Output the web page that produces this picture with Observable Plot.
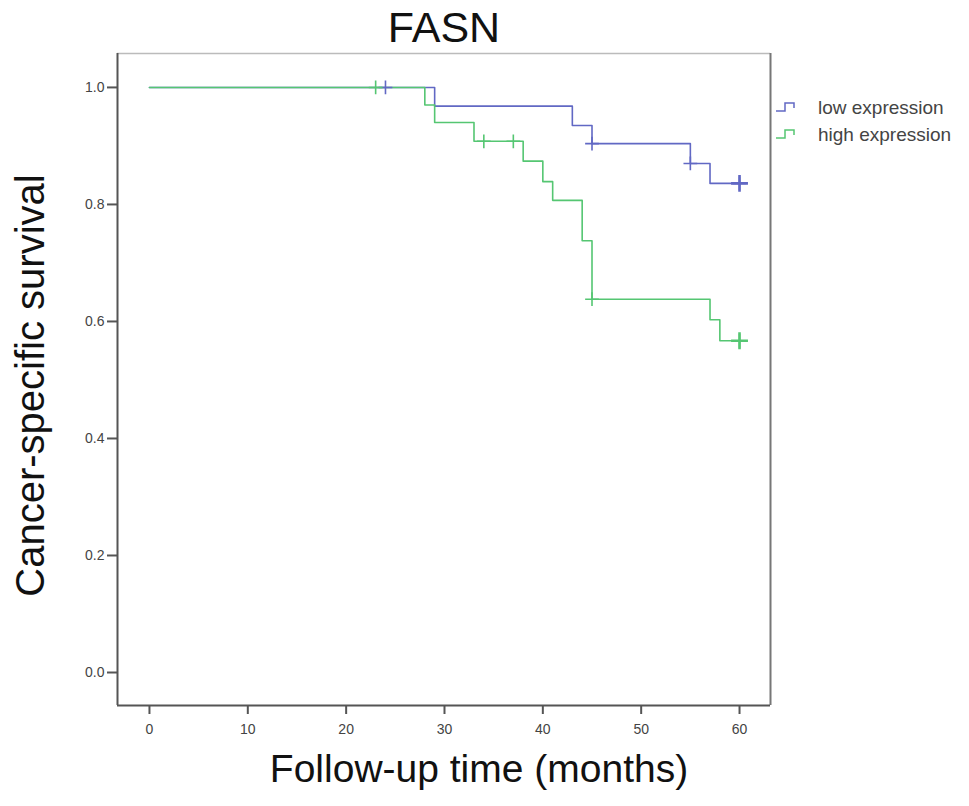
<!DOCTYPE html>
<html>
<head>
<meta charset="utf-8">
<script src="https://cdn.jsdelivr.net/npm/d3@7"></script>
<script src="https://cdn.jsdelivr.net/npm/@observablehq/plot@0.6"></script>
<style>
  html, body { margin: 0; padding: 0; background: #fff; }
  #chart { width: 969px; height: 806px; }
</style>
</head>
<body>
<div id="chart"></div>
<script>
// ---- data ----
const title = "FASN";
const xLabel = "Follow-up time (months)";
const yLabel = "Cancer-specific survival";
const seriesNames = ["low expression", "high expression"];
const seriesColors = ["#6168c4", "#55c672"];

// Kaplan-Meier step points (time in months, survival)
const lowTimes     = [0, 29, 43, 45, 55, 57, 60];
const lowSurvival  = [1.0, 0.968, 0.935, 0.904, 0.870, 0.836, 0.836];
const highTimes    = [0, 28, 29, 33, 38, 40, 41, 44, 45, 57, 58, 60];
const highSurvival = [1.0, 0.970, 0.940, 0.908, 0.874, 0.839, 0.807, 0.738, 0.638, 0.603, 0.567, 0.567];

// censored observations
const lowCensorTimes  = [24, 45, 55, 60];
const lowCensorSurv   = [1.0, 0.904, 0.870, 0.836];
const highCensorTimes = [23, 34, 37, 45, 60];
const highCensorSurv  = [1.0, 0.908, 0.908, 0.638, 0.567];

const xTicks = [0, 10, 20, 30, 40, 50, 60];
const yTicks = [0.0, 0.2, 0.4, 0.6, 0.8, 1.0];

// ---- build tables ----
const steps = [
  ...lowTimes.map((t, i) => ({time: t, surv: lowSurvival[i], group: seriesNames[0]})),
  ...highTimes.map((t, i) => ({time: t, surv: highSurvival[i], group: seriesNames[1]}))
];
const censors = [
  ...lowCensorTimes.map((t, i) => ({time: t, surv: lowCensorSurv[i], group: seriesNames[0]})),
  ...highCensorTimes.map((t, i) => ({time: t, surv: highCensorSurv[i], group: seriesNames[1]}))
];

const xDomain = [-3.25, 63.15];
const yDomain = [-0.0564, 1.058];
const axisColor = "#555";
const font = "Liberation Sans, Arial, sans-serif";

const plot = Plot.plot({
  width: 969,
  height: 806,
  marginLeft: 117,
  marginRight: 199,
  marginTop: 53,
  marginBottom: 101,
  style: {fontFamily: font, background: "#fff", overflow: "visible"},
  x: {domain: xDomain, ticks: xTicks, tickFormat: d3.format("d"), label: null},
  y: {domain: yDomain, ticks: yTicks, tickFormat: d3.format(".1f"), label: null},
  color: {domain: seriesNames, range: seriesColors},
  marks: [
    // plot frame: faint top, darker right
    Plot.ruleY([yDomain[1]], {stroke: "#bbb", strokeWidth: 1.5}),
    Plot.ruleX([xDomain[1]], {stroke: "#777", strokeWidth: 2}),
    Plot.line(steps, {x: "time", y: "surv", z: "group", stroke: "group", curve: "step-after", strokeWidth: 1.6}),
    Plot.dot(censors, {x: "time", y: "surv", stroke: "group", symbol: "plus", r: 4.5, strokeWidth: 1.6}),
    Plot.dot(censors.filter(d => d.time === 60), {x: "time", y: "surv", stroke: "group", symbol: "plus", r: 5.5, strokeWidth: 2.6}),
    Plot.axisX({ticks: xTicks, tickSize: 9, tickPadding: 10, stroke: axisColor, strokeWidth: 2, fontSize: 14, fill: "#444", label: null}),
    Plot.axisY({ticks: yTicks, tickSize: 10, tickPadding: 3, stroke: axisColor, strokeWidth: 2, fontSize: 14, fill: "#444", label: null}),
    Plot.ruleX([xDomain[0]], {stroke: axisColor, strokeWidth: 2}),
    Plot.ruleY([yDomain[0]], {stroke: axisColor, strokeWidth: 2}),
    // title and axis titles
    Plot.text([title], {frameAnchor: "top", lineAnchor: "middle", dy: -25, fontSize: 43, fill: "#111"}),
    Plot.text([xLabel], {frameAnchor: "bottom", lineAnchor: "middle", dy: 64, dx: 35, fontSize: 39, fill: "#111"}),
    Plot.text([yLabel], {frameAnchor: "left", textAnchor: "middle", lineAnchor: "middle", dx: -86, dy: 6, rotate: -90, fontSize: 40, fill: "#111"})
  ]
});

document.getElementById("chart").appendChild(plot);

// legend drawn with the plot's own scales: placed just right of the frame
const svg = d3.select(plot);
const xs = plot.scale("x"), ys = plot.scale("y");
const lx = xs.apply(xDomain[1]) + 6;
const ly0 = ys.apply(yDomain[1]) + 54;
const lg = svg.append("g").attr("font-family", font).attr("text-anchor", "start");
seriesNames.forEach((name, i) => {
  const y = ly0 + i * 27;
  lg.append("path")
    .attr("d", `M${lx},${y + 4}H${lx + 9}V${y - 4}H${lx + 18}V${y + 1}`)
    .attr("fill", "none").attr("stroke", seriesColors[i]).attr("stroke-width", 1.5);
  lg.append("text")
    .attr("x", lx + 42).attr("y", y).attr("dy", "0.35em").attr("text-anchor", "start")
    .attr("font-size", 19).attr("fill", "#444").text(name);
});
</script>
</body>
</html>
